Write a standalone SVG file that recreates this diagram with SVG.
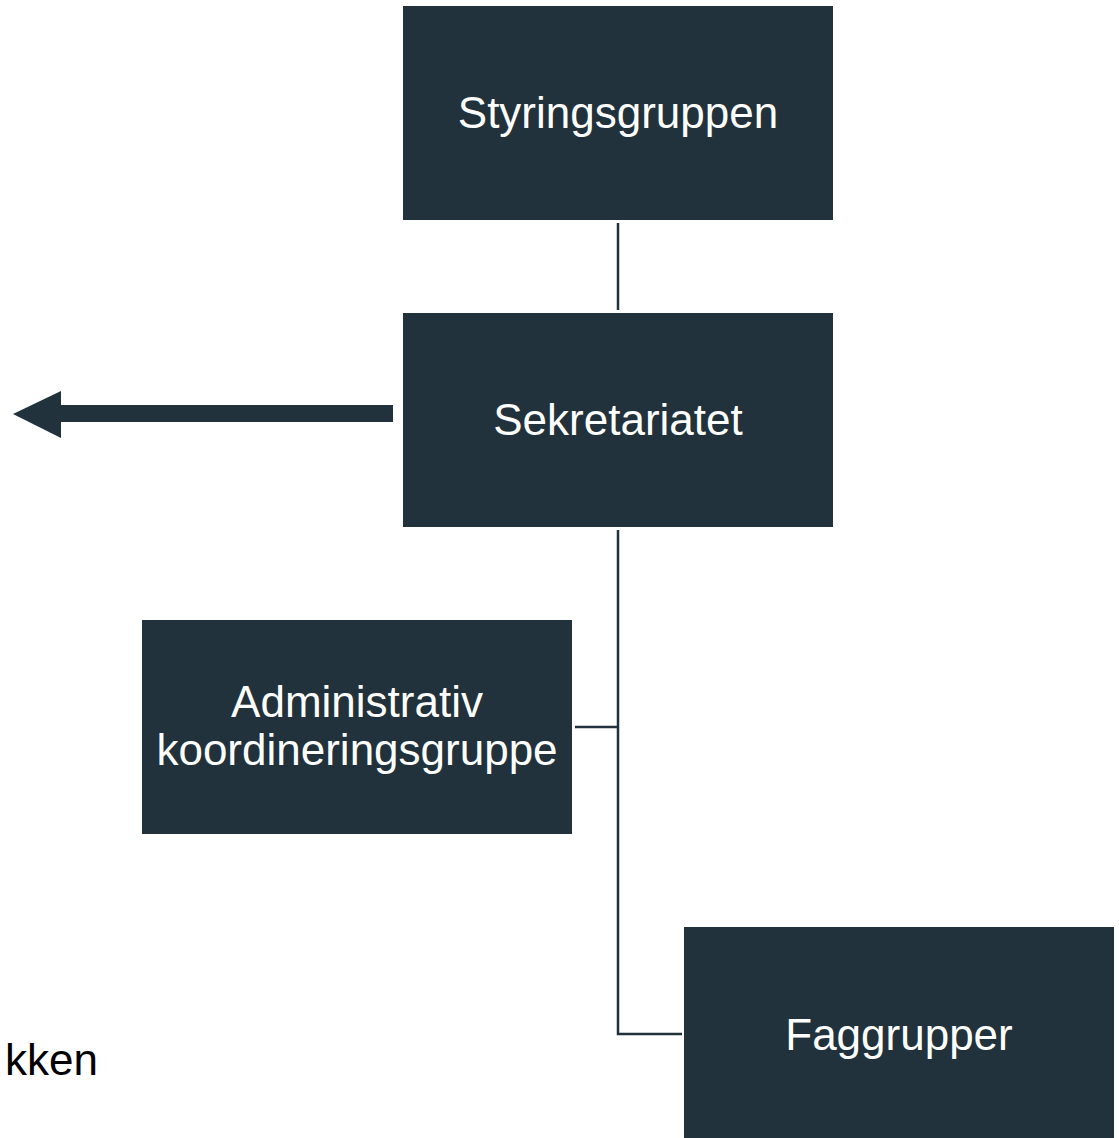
<svg xmlns="http://www.w3.org/2000/svg" width="1119" height="1138" viewBox="0 0 1119 1138">
<style>
.box{fill:#21323c}
.lbl{font-family:"Liberation Sans",Arial,sans-serif;font-size:44px;fill:#ffffff;text-anchor:middle}
.conn{stroke:#21323c;stroke-width:2.5;fill:none}
</style>
<rect width="1119" height="1138" fill="#ffffff"/>
<g id="connectors">
<line class="conn" x1="618" y1="223" x2="618" y2="310"/>
<polyline class="conn" points="618,530 618,1034 682,1034"/>
<line class="conn" x1="575" y1="727" x2="618" y2="727"/>
<polygon fill="#21323c" points="393,405 61,405 61,391 13,414 61,438 61,422 393,422"/>
</g>
<g id="styringsgruppen">
<rect class="box" x="403" y="6" width="430" height="214"/>
<text class="lbl" x="618" y="128">Styringsgruppen</text>
</g>
<g id="sekretariatet">
<rect class="box" x="403" y="313" width="430" height="214"/>
<text class="lbl" x="618" y="435">Sekretariatet</text>
</g>
<g id="administrativ">
<rect class="box" x="142" y="620" width="430" height="214"/>
<text class="lbl" x="357" y="717">Administrativ</text>
<text class="lbl" x="357" y="765">koordineringsgruppe</text>
</g>
<g id="faggrupper">
<rect class="box" x="684" y="927" width="430" height="214"/>
<text class="lbl" x="899" y="1050">Faggrupper</text>
</g>
<text x="98" y="1075" font-family="Liberation Sans, Arial, sans-serif" font-size="44" fill="#000000" text-anchor="end">kken</text>
</svg>
